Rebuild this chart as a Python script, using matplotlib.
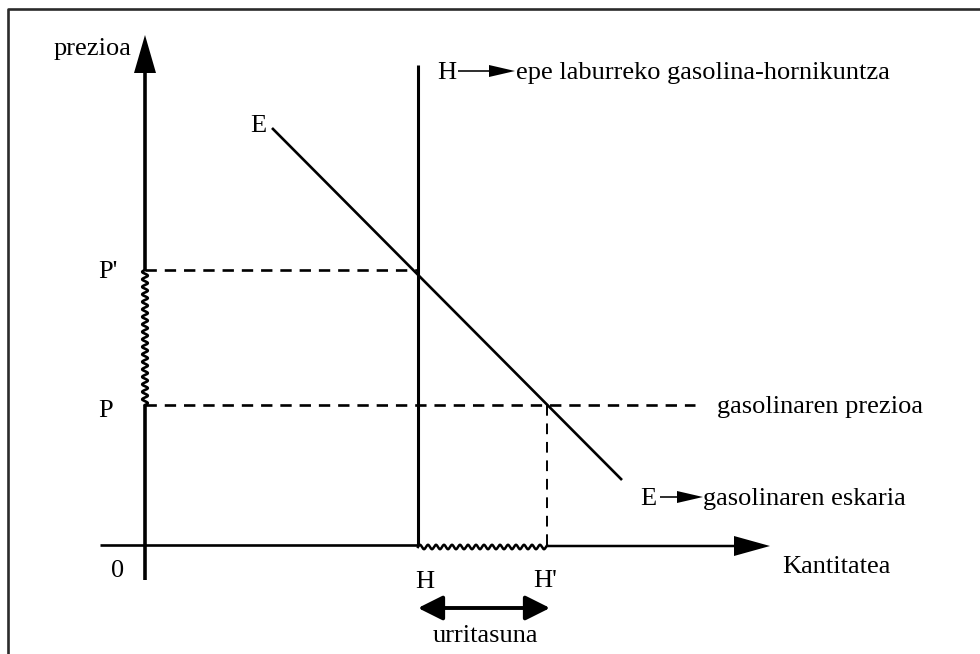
import numpy as np
import matplotlib
matplotlib.use('Agg')
import matplotlib.pyplot as plt

plt.rcParams['font.family'] = ['Liberation Serif', 'DejaVu Serif']

# values of the diagram (quantity, price)
q_H = 273          # short-run supply of petrol (vertical line)
q_Hp = 402         # quantity demanded at price P
p_P = 140          # petrol price
p_Pp = 275         # price where supply meets demand
demand_q = [127, 477]
demand_p = [417, 65]
q_max = 625
p_max = 510

labels = {
    'yaxis': 'prezioa',
    'xaxis': 'Kantitatea',
    'supply': 'epe laburreko gasolina-hornikuntza',
    'demand': 'gasolinaren eskaria',
    'price': 'gasolinaren prezioa',
    'gap': 'urritasuna',
}

fig = plt.figure(figsize=(9.8, 6.54), dpi=100)
ax = fig.add_axes([0, 0, 1, 1])
ax.set_xlim(-145, 835)
ax.set_ylim(-109, 545)
ax.axis('off')

# frame
ax.plot([0.008, 0.008, 1.0], [0.0, 0.986, 0.986], transform=ax.transAxes,
        color='#2b2b2b', lw=1.9, solid_capstyle='butt')

k = 'black'
fs = 19

# axes with arrows
ax.plot([0, 0], [-35, p_P], color=k, lw=2.6, solid_capstyle='butt')
ax.arrow(0, p_Pp, 0, p_max - p_Pp, width=3.6, head_width=22, head_length=38,
         length_includes_head=True, color=k, lw=0)
ax.plot([-45, q_H], [0, 0], color=k, lw=1.9, solid_capstyle='butt')
ax.arrow(q_Hp, -1, q_max - q_Hp, 0, width=2.5, head_width=20, head_length=36,
         length_includes_head=True, color=k, lw=0)

# wavy segments (shortage)
t = np.linspace(p_P, p_Pp, 400)
ax.plot(2.8 * np.sin((t - p_P) / 7.5 * 2 * np.pi), t, color=k, lw=1.9)
s = np.linspace(q_H, q_Hp, 400)
ax.plot(s, -2 + 2.2 * np.sin((s - q_H) / 8.0 * 2 * np.pi), color=k, lw=1.8)

# supply and demand
ax.plot([q_H, q_H], [0, 480], color=k, lw=2.2, solid_capstyle='butt')
ax.plot(demand_q, demand_p, color=k, lw=1.9, solid_capstyle='butt')

# dashed guides
dash = dict(color=k, lw=1.9, dashes=(4.3, 3.0))
ax.plot([0, q_H], [p_Pp, p_Pp], **dash)
ax.plot([0, 550], [p_P, p_P], **dash)
ax.plot([q_Hp, q_Hp], [0, p_P], color=k, lw=1.4, dashes=(5.5, 4.0))

# labels
ax.text(-14, 490, labels['yaxis'], fontsize=fs, ha='right', va='baseline')
ax.text(105, 413, 'E', fontsize=fs, ha='left', va='baseline')
ax.text(-47, p_Pp - 8, "P'", fontsize=fs, ha='left', va='baseline')
ax.text(-47, p_P - 12, 'P', fontsize=fs, ha='left', va='baseline')
ax.text(-27, -32, '0', fontsize=fs, ha='center', va='baseline')
ax.text(637, -28, labels['xaxis'], fontsize=fs, ha='left', va='baseline')
ax.text(q_H + 7, -43, 'H', fontsize=fs, ha='center', va='baseline')
ax.text(q_Hp - 2, -42, "H'", fontsize=fs, ha='center', va='baseline')
ax.text(572, p_P - 8, labels['price'], fontsize=fs, ha='left', va='baseline')

ax.text(q_H + 19, 466, 'H', fontsize=fs, ha='left', va='baseline')
ax.arrow(313, 474, 57, 0, width=1.6, head_width=12, head_length=26,
         length_includes_head=True, color=k, lw=0)
ax.text(371, 466, labels['supply'], fontsize=fs, ha='left', va='baseline')

ax.text(495, 40, 'E', fontsize=fs, ha='left', va='baseline')
ax.arrow(515, 48, 43, 0, width=1.6, head_width=12, head_length=26,
         length_includes_head=True, color=k, lw=0)
ax.text(558, 40, labels['demand'], fontsize=fs, ha='left', va='baseline')

ax.annotate('', xy=(q_Hp + 3, -63), xytext=(q_H, -63),
            arrowprops=dict(arrowstyle='<|-|>,head_length=0.6,head_width=0.3',
                            mutation_scale=25, lw=2.8, color=k,
                            shrinkA=0, shrinkB=0))
ax.text((q_H + q_Hp) / 2 + 3, -97, labels['gap'], fontsize=fs, ha='center',
        va='baseline')

fig.savefig('out.png', dpi=100)
